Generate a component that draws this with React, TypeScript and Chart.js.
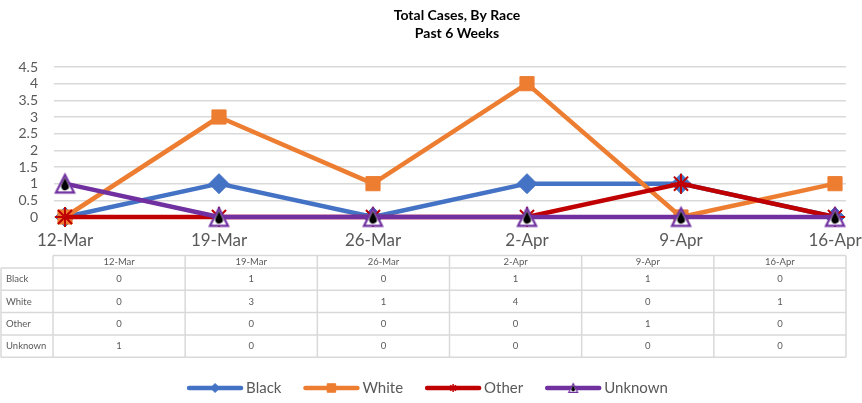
import { useEffect, useRef } from "react";
import { Chart, registerables } from "chart.js";
import { drawPoint } from "chart.js/helpers";

Chart.register(...registerables);

const categories = ["12-Mar", "19-Mar", "26-Mar", "2-Apr", "9-Apr", "16-Apr"];
const blackValues = [0, 1, 0, 1, 1, 0];
const whiteValues = [0, 3, 1, 4, 0, 1];
const otherValues = [0, 0, 0, 0, 1, 0];
const unknownValues = [1, 0, 0, 0, 0, 0];
const seriesNames = ["Black", "White", "Other", "Unknown"];
const seriesColors = ["#4472C4", "#ED7D31", "#C00000", "#7030A0"];
const titleLines = ["Total Cases, By Race", "Past 6 Weeks"];
const yTickValues = [0, 0.5, 1, 1.5, 2, 2.5, 3, 3.5, 4, 4.5];
const yMin = 0;
const yMax = 4.5;

const FONT = "Lato, 'Open Sans', sans-serif";
const GRAY_TEXT = "#595959";
const GRID = "#d9d9d9";

function makeUnknownMarker(w: number): HTMLCanvasElement {
  const lw = Math.max(1, w / 8);
  const size = Math.ceil(w + lw * 2 + 2);
  const c = document.createElement("canvas");
  c.width = size;
  c.height = size;
  const ctx = c.getContext("2d")!;
  const cx = size / 2;
  const h = w * 0.98;
  const top = (size - h) / 2;
  ctx.beginPath();
  ctx.moveTo(cx, top);
  ctx.lineTo(cx + w / 2, top + h);
  ctx.lineTo(cx - w / 2, top + h);
  ctx.closePath();
  ctx.fillStyle = "#ffffff";
  ctx.fill();
  ctx.lineWidth = lw;
  ctx.lineJoin = "miter";
  ctx.strokeStyle = seriesColors[3];
  ctx.stroke();
  // black drop inside
  const r = w * 0.21;
  const cy = top + h * 0.66;
  ctx.beginPath();
  ctx.arc(cx, cy, r, -Math.PI / 6, (Math.PI * 7) / 6, false);
  ctx.lineTo(cx, cy - r * 2.3);
  ctx.closePath();
  ctx.fillStyle = "#000000";
  ctx.fill();
  return c;
}

const titlePlugin = {
  id: "customTitle",
  afterDraw(chart: any) {
    const ctx: CanvasRenderingContext2D = chart.ctx;
    ctx.save();
    ctx.fillStyle = "#000000";
    ctx.font = `bold 14px ${FONT}`;
    ctx.textAlign = "center";
    ctx.textBaseline = "middle";
    const cx = (chart.chartArea.left + chart.chartArea.right) / 2 + 7;
    titleLines.forEach((t, i) => ctx.fillText(t, cx, 15 + i * 18));
    ctx.restore();
  },
};

const tablePlugin = {
  id: "dataTable",
  afterDraw(chart: any) {
    const ctx: CanvasRenderingContext2D = chart.ctx;
    const { left, right } = chart.chartArea;
    const tl = left - 1;
    const tr = right;
    const colW = (tr - tl) / categories.length;
    const top = 255.5;
    const headerH = 12.5;
    const rowH = 22.3;
    const rows = [blackValues, whiteValues, otherValues, unknownValues];
    const bodyTop = top + headerH;
    const bottom = bodyTop + rowH * rows.length;
    const labelLeft = 1;
    ctx.save();
    ctx.strokeStyle = GRID;
    ctx.lineWidth = 1.5;
    ctx.beginPath();
    ctx.moveTo(tl, top);
    ctx.lineTo(tr, top);
    for (let r = 0; r <= rows.length; r++) {
      const y = bodyTop + rowH * r;
      ctx.moveTo(labelLeft, y);
      ctx.lineTo(tr, y);
    }
    ctx.moveTo(labelLeft, bodyTop);
    ctx.lineTo(labelLeft, bottom);
    for (let i = 0; i <= categories.length; i++) {
      const x = tl + colW * i;
      ctx.moveTo(x, top);
      ctx.lineTo(x, bottom);
    }
    ctx.stroke();

    ctx.fillStyle = GRAY_TEXT;
    ctx.font = `9.5px ${FONT}`;
    ctx.textBaseline = "middle";
    ctx.textAlign = "center";
    categories.forEach((c, i) => {
      ctx.fillText(c, tl + colW * (i + 0.5), top + headerH / 2 + 0.5);
    });
    rows.forEach((vals, r) => {
      const y = bodyTop + rowH * (r + 0.5);
      ctx.textAlign = "left";
      ctx.fillText(seriesNames[r], 6, y);
      ctx.textAlign = "center";
      vals.forEach((v, i) => {
        ctx.fillText(String(v), tl + colW * (i + 0.5), y);
      });
    });
    ctx.restore();
  },
};

const legendMarkerStyles: any[] = [
  { pointStyle: "rectRot", radius: 4.5, borderWidth: 1, rotation: 0 },
  { pointStyle: "rect", radius: 6, borderWidth: 1, rotation: 0 },
  { pointStyle: "star", radius: 4, borderWidth: 1.5, rotation: 0 },
  null,
];

function makeLegendPlugin(smallMarker: HTMLCanvasElement) {
  return {
    id: "customLegend",
    afterDraw(chart: any) {
      const ctx: CanvasRenderingContext2D = chart.ctx;
      ctx.save();
      ctx.font = `15px ${FONT}`;
      const lineLen = 56;
      const gapText = 3;
      const gapItem = 22;
      const widths = seriesNames.map((n) => ctx.measureText(n).width);
      const total =
        widths.reduce((a, w) => a + lineLen + gapText + w, 0) + gapItem * (seriesNames.length - 1);
      let x = chart.width / 2 - 3.5 - total / 2;
      const y = chart.height - 15;
      seriesNames.forEach((name, i) => {
        const color = seriesColors[i];
        ctx.strokeStyle = color;
        ctx.lineWidth = 4.5;
        ctx.lineCap = "round";
        ctx.beginPath();
        ctx.moveTo(x + 2, y);
        ctx.lineTo(x + lineLen - 2, y);
        ctx.stroke();
        const mx = x + lineLen / 2;
        const st = legendMarkerStyles[i];
        if (st) {
          ctx.fillStyle = color;
          ctx.strokeStyle = color;
          ctx.lineCap = "butt";
          ctx.lineWidth = st.borderWidth;
          drawPoint(ctx, st, mx, y);
        } else {
          ctx.drawImage(smallMarker, mx - smallMarker.width / 2, y - smallMarker.height / 2);
        }
        ctx.fillStyle = GRAY_TEXT;
        ctx.textAlign = "left";
        ctx.textBaseline = "middle";
        ctx.fillText(name, x + lineLen + gapText, y + 0.5);
        x += lineLen + gapText + widths[i] + gapItem;
      });
      ctx.restore();
    },
  };
}

function toPoints(values: number[]) {
  return values.map((v, i) => ({ x: i, y: v }));
}

export default function App() {
  const ref = useRef<HTMLCanvasElement>(null);
  useEffect(() => {
    const canvas = ref.current!;
    const bigMarker = makeUnknownMarker(18);
    const smallMarker = makeUnknownMarker(9);
    const common = {
      borderWidth: 4.5,
      tension: 0,
      fill: false,
      clip: false,
      borderJoinStyle: "round" as const,
      borderCapStyle: "round" as const,
    };
    const chart = new Chart(canvas, {
      type: "line",
      data: {
        datasets: [
          {
            ...common,
            label: seriesNames[0],
            data: toPoints(blackValues),
            borderColor: seriesColors[0],
            backgroundColor: seriesColors[0],
            pointStyle: "rectRot",
            pointRadius: 10,
            pointBorderWidth: 1,
            pointBackgroundColor: seriesColors[0],
            pointBorderColor: seriesColors[0],
            order: 4,
          },
          {
            ...common,
            label: seriesNames[1],
            data: toPoints(whiteValues),
            borderColor: seriesColors[1],
            backgroundColor: seriesColors[1],
            pointStyle: "rect",
            pointRadius: 10,
            pointBorderWidth: 1,
            pointBackgroundColor: seriesColors[1],
            pointBorderColor: seriesColors[1],
            order: 3,
          },
          {
            ...common,
            label: seriesNames[2],
            data: toPoints(otherValues),
            borderColor: seriesColors[2],
            backgroundColor: seriesColors[2],
            pointStyle: "star",
            pointRadius: 10,
            pointBorderWidth: 2,
            pointBackgroundColor: seriesColors[2],
            pointBorderColor: seriesColors[2],
            order: 2,
          },
          {
            ...common,
            label: seriesNames[3],
            data: toPoints(unknownValues),
            borderColor: seriesColors[3],
            backgroundColor: seriesColors[3],
            pointStyle: bigMarker as any,
            pointRadius: 10,
            order: 1,
          },
        ],
      },
      options: {
        responsive: false,
        animation: false,
        events: [],
        layout: { padding: { top: 67, left: 0, right: 16, bottom: 146 } },
        plugins: {
          legend: { display: false },
          tooltip: { enabled: false },
          title: { display: false },
        },
        scales: {
          x: {
            type: "linear",
            min: -0.0714,
            max: categories.length - 1 + 0.0714,
            afterBuildTicks: (scale: any) => {
              scale.ticks = categories.map((_, i) => ({ value: i }));
            },
            afterFit: (scale: any) => {
              scale.height = 40;
              scale.paddingLeft = 0;
              scale.paddingRight = 0;
            },
            grid: { display: false, drawTicks: false },
            border: { display: false },
            ticks: {
              autoSkip: false,
              maxRotation: 0,
              padding: 13,
              color: GRAY_TEXT,
              font: { family: FONT, size: 17 },
              callback: (v: any) => categories[Number(v)] ?? "",
            },
          },
          y: {
            min: yMin,
            max: yMax,
            afterBuildTicks: (scale: any) => {
              scale.ticks = yTickValues.map((v) => ({ value: v }));
            },
            afterFit: (scale: any) => {
              scale.width = 54;
              scale.paddingTop = 0;
              scale.paddingBottom = 0;
            },
            grid: { color: GRID, lineWidth: 1.5, drawTicks: false },
            border: { display: false },
            ticks: {
              autoSkip: false,
              padding: 16,
              color: GRAY_TEXT,
              font: { family: FONT, size: 14 },
              callback: (v: any) => String(v),
            },
          },
        },
      },
      plugins: [titlePlugin, tablePlugin, makeLegendPlugin(smallMarker)],
    } as any);
    return () => chart.destroy();
  }, []);
  return (
    <div style={{ position: "absolute", left: 0, top: 0, width: 862, height: 403 }}>
      <canvas ref={ref} width={862} height={403} style={{ display: "block" }} />
    </div>
  );
}
